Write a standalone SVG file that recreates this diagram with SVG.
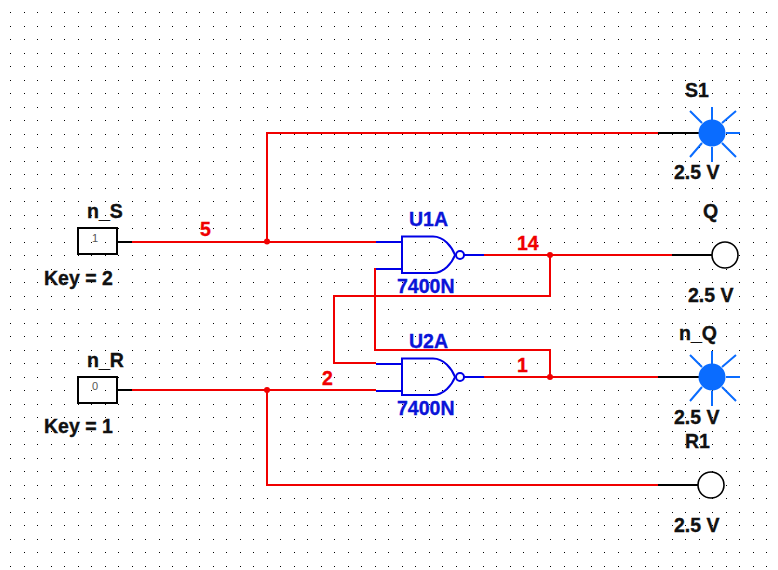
<svg xmlns="http://www.w3.org/2000/svg" width="778" height="570" viewBox="0 0 778 570">
<style>
text{font-family:"Liberation Sans",Arial,sans-serif;font-weight:700;font-size:19.500px;stroke-width:.35px}
.k{fill:#111;stroke:#111}.b{fill:#0a14d8;stroke:#0a14d8}.r{fill:#f00000;stroke:#f00000}
.wr,.wk,.wb,.ray{fill:none;stroke-width:2}
.wr{stroke:#f00000}.wk{stroke:#000}.wb{stroke:#0000e6}.ray{stroke:#0a6cff}
.gate{fill:none;stroke:#0000e6;stroke-width:2}
.box{fill:none;stroke:#000;stroke-width:2}
.val{font-weight:400;font-size:11px;fill:#555;stroke:none}
.probe{fill:#fff;stroke:#000;stroke-width:1.600}
.led{fill:#0a6cff}
</style>
<defs>
<pattern id="grid" width="27" height="27" patternUnits="userSpaceOnUse">
<rect x="10" y="12" width="1" height="1" fill="#000"/><rect x="24" y="12" width="1" height="1" fill="#000"/>
<rect x="10" y="26" width="1" height="1" fill="#000"/><rect x="24" y="26" width="1" height="1" fill="#000"/>
</pattern>
<g id="rays">
<path class="ray" d="M0 -26V-13M0 14V29M14 0H28M-22 -22L-10 -10M24 -22L10 -10M-22 24L-10 10M24 24L10 10"/>
</g>
<g id="nand">
<path class="gate" d="M-26 -13H0M-26 14H0M0 -18.500H31C42 -18.500 50 -8 53 0C50 8 42 18 31 18H0Z"/>
<circle class="gate" cx="58" cy="0" r="4"/>
<path class="gate" d="M62 0H82"/>
</g>
</defs>
<rect width="778" height="570" fill="#fff"/>
<rect width="778" height="570" fill="url(#grid)"/>
<g id="connectors">
<path class="wr" d="M132 242H376M267 242V133H658"/>
<path class="wr" d="M132 390H376M267 390V485H658"/>
<path class="wr" d="M484 255H672M550 255V296H334V363H376"/>
<path class="wr" d="M484 377H658M550 377V350H375V269H376"/>
<path class="wk" d="M118 242H132M118 390H132M658 133H700M672 255H712M658 377H700M658 485H698"/>
<circle cx="267" cy="241.500" r="3" fill="#f00000"/>
<circle cx="267" cy="390" r="3" fill="#f00000"/>
<circle cx="550" cy="255" r="3" fill="#f00000"/>
<circle cx="550" cy="377" r="3" fill="#f00000"/>
<text class="r" x="200" y="236">5</text>
<text class="r" x="517" y="250">14</text>
<text class="r" x="322" y="385">2</text>
<text class="r" x="517" y="372">1</text>
</g>
<g id="n_S">
<rect class="box" x="78" y="228" width="39" height="26"/>
<text class="val" x="95" y="242" text-anchor="middle">1</text>
<text class="k" x="87" y="218">n_S</text>
<text class="k" x="44" y="285">Key = 2</text>
</g>
<g id="n_R">
<rect class="box" x="78" y="377" width="39" height="26"/>
<text class="val" x="95" y="390" text-anchor="middle">0</text>
<text class="k" x="87" y="367">n_R</text>
<text class="k" x="44" y="433">Key = 1</text>
</g>
<g id="U1A">
<use href="#nand" x="402" y="255"/>
<text class="b" x="409" y="226">U1A</text>
<text class="b" x="397" y="293">7400N</text>
</g>
<g id="U2A">
<use href="#nand" x="402" y="377"/>
<text class="b" x="409" y="348">U2A</text>
<text class="b" x="397" y="415">7400N</text>
</g>
<g id="S1">
<use href="#rays" x="712" y="133"/>
<circle class="led" cx="712" cy="133" r="13.500"/>
<text class="k" x="685" y="97">S1</text>
<text class="k" x="674" y="179">2.5 V</text>
</g>
<g id="Q">
<circle class="probe" cx="725" cy="255" r="13"/>
<text class="k" x="703" y="218">Q</text>
<text class="k" x="688" y="302">2.5 V</text>
</g>
<g id="n_Q">
<use href="#rays" x="712" y="377"/>
<circle class="led" cx="712" cy="377" r="13.500"/>
<text class="k" x="679" y="340">n_Q</text>
<text class="k" x="674" y="424">2.5 V</text>
</g>
<g id="R1">
<circle class="probe" cx="711" cy="485" r="13"/>
<text class="k" x="685" y="448">R1</text>
<text class="k" x="674" y="532">2.5 V</text>
</g>
</svg>
